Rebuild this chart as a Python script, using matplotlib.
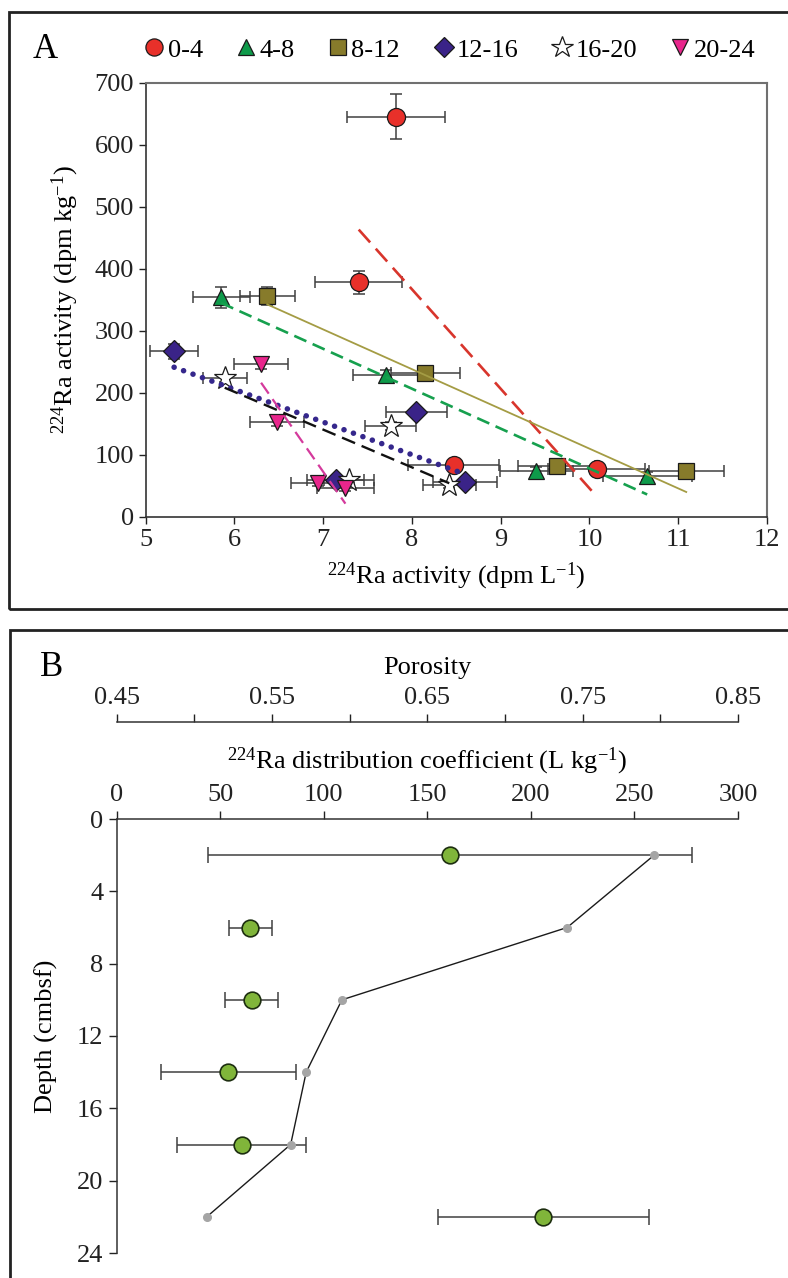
import numpy as np
import matplotlib
matplotlib.use('Agg')
import matplotlib.pyplot as plt
from matplotlib.lines import Line2D
from matplotlib.patches import Rectangle
from matplotlib.ticker import MultipleLocator

plt.rcParams['font.family'] = ['Liberation Serif', 'DejaVu Serif']
plt.rcParams['mathtext.default'] = 'regular'
plt.rcParams['font.size'] = 19

# ---- Panel A data: 224Ra in pore water (x) vs sediment (y), by depth layer ----
groups = ['0-4', '4-8', '8-12', '12-16', '16-20', '20-24']
x_data = {
    '0-4':   [7.82, 7.40, 8.47, 10.08],
    '4-8':   [5.85, 7.71, 9.40, 10.65],
    '8-12':  [6.37, 8.15, 9.63, 11.09],
    '12-16': [5.32, 8.05, 7.14, 8.60],
    '16-20': [5.89, 7.76, 7.29, 8.42],
    '20-24': [6.30, 6.48, 6.94, 7.25],
}
y_data = {
    '0-4':   [645, 378, 83, 77],
    '4-8':   [354, 228, 74, 66],
    '8-12':  [356, 232, 82, 74],
    '12-16': [267, 169, 60, 56],
    '16-20': [223, 146, 59, 51],
    '20-24': [247, 153, 55, 46],
}
x_err = {
    '0-4':   [0.55, 0.49, 0.51, 0.55],
    '4-8':   [0.32, 0.37, 0.41, 0.50],
    '8-12':  [0.31, 0.39, 0.43, 0.42],
    '12-16': [0.27, 0.34, 0.32, 0.36],
    '16-20': [0.25, 0.29, 0.28, 0.30],
    '20-24': [0.30, 0.30, 0.30, 0.32],
}
y_err = {
    '0-4':   [36, 19, 8, 6],
    '4-8':   [17, 8, 6, 6],
    '8-12':  [15, 8, 6, 6],
    '12-16': [12, 6, 5, 5],
    '16-20': [6, 6, 5, 5],
    '20-24': [8, 6, 5, 5],
}

# ---- Panel B data: depth profiles ----
depth = [2, 6, 10, 14, 18, 22]
kd = [161, 64.6, 65.2, 53.8, 60.3, 206]
kd_err = [117, 10.3, 12.9, 32.6, 31.2, 51]
porosity = [0.796, 0.740, 0.595, 0.572, 0.562, 0.508]

# marker / trendline styles per layer
marker = {'0-4': 'o', '4-8': '^', '8-12': 's', '12-16': 'D', '16-20': '*', '20-24': 'v'}
face = {'0-4': '#e8302a', '4-8': '#0e9a4a', '8-12': '#877b2b',
        '12-16': '#3a2388', '16-20': 'white', '20-24': '#e8268c'}
msize = {'0-4': 13, '4-8': 12, '8-12': 11.5, '12-16': 11, '16-20': 17, '20-24': 12}
line_col = {'0-4': '#d8352c', '4-8': '#16a04e', '8-12': '#a49c44',
            '12-16': '#35278c', '16-20': '#111111', '20-24': '#d43a9c'}
line_sty = {'0-4': (0, (6.5, 3.2)), '4-8': (0, (5, 2.6)), '8-12': '-',
            '12-16': (0, (0.01, 1.8)), '16-20': (0, (6, 3)), '20-24': (0, (6, 3))}
line_w = {'0-4': 1.9, '4-8': 1.9, '8-12': 1.3, '12-16': 4, '16-20': 1.7, '20-24': 1.6}

W, H = 788, 1278
fig = plt.figure(figsize=(W / 100, H / 100), dpi=100)

def fx(px):
    return px / W

def fy(py):
    return 1 - py / H

# outer boxes of the two panels
fig.add_artist(Rectangle((fx(9), fy(609)), 1.0, fy(12) - fy(609), transform=fig.transFigure,
                         fill=False, lw=2, ec='#222222'))
fig.add_artist(Rectangle((fx(10), -0.01), 1.0, fy(630) + 0.01, transform=fig.transFigure,
                         fill=False, lw=2, ec='#222222'))

# ===================== Panel A =====================
ax = fig.add_axes([fx(145.7), fy(516.7), fx(767) - fx(145.7), fy(82.7) - fy(516.7)])
for g in groups:
    ax.errorbar(x_data[g], y_data[g], xerr=x_err[g], yerr=y_err[g], fmt='none',
                ecolor='#404040', elinewidth=1.1, capsize=4, capthick=1.1, zorder=2)
for g in groups:
    xs = np.array(x_data[g])
    k, b = np.polyfit(xs, y_data[g], 1)
    xl = np.array([xs.min(), xs.max()])
    ax.plot(xl, k * xl + b, color=line_col[g], lw=line_w[g], linestyle=line_sty[g],
            dash_capstyle='round' if g == '12-16' else 'butt', zorder=4)
for g in groups:
    ax.plot(x_data[g], y_data[g], linestyle='none', marker=marker[g], ms=msize[g],
            mfc=face[g], mec='#1a1a1a', mew=0.9, zorder=3)

ax.set_xlim(5, 12)
ax.set_ylim(0, 700)
ax.set_xticks(range(5, 13))
ax.set_yticks(range(0, 701, 100))
ax.tick_params(direction='out', length=5, width=1, labelsize=19, colors='#222222')
for s in ['left', 'bottom']:
    ax.spines[s].set_color('#333333')
    ax.spines[s].set_linewidth(1.2)
for s in ['top', 'right']:
    ax.spines[s].set_color('#707070')
    ax.spines[s].set_linewidth(1.5)
ax.set_xlabel('$^{224}$Ra activity (dpm L$^{-1}$)', fontsize=19, labelpad=7)
ax.set_ylabel('$^{224}$Ra activity (dpm kg$^{-1}$)', fontsize=19, labelpad=10)

handles = [Line2D([], [], linestyle='none', marker=marker[g], ms=msize[g] * 0.95,
                  mfc=face[g], mec='#1a1a1a', mew=0.9) for g in groups]
fig.legend(handles, groups, ncol=6, loc='center left', bbox_to_anchor=(fx(132), fy(50)),
           frameon=False, fontsize=19, handlelength=0.7, handletextpad=0.15,
           columnspacing=1.3, borderpad=0)
fig.text(fx(45), fy(50), 'A', fontsize=25, ha='center', va='center')

# ===================== Panel B =====================
axb = fig.add_axes([fx(116.7), fy(1253), fx(738) - fx(116.7), fy(819) - fy(1253)])
axp = axb.twiny()
axb.xaxis.tick_top()
axb.xaxis.set_label_position('top')

axb.errorbar(kd, depth, xerr=kd_err, fmt='none', ecolor='#404040', elinewidth=1.1,
             capsize=6, capthick=1.1, zorder=2)
axb.plot(kd, depth, linestyle='none', marker='o', ms=12, mfc='#80b53a', mec='#1d2e10',
         mew=1.2, zorder=3)
axb.set_xlim(0, 300)
axb.set_ylim(24, 0)
axb.set_xticks(range(0, 301, 50))
axb.set_yticks(range(0, 25, 4))
axb.spines['right'].set_visible(False)
axb.spines['bottom'].set_visible(False)
for s in ['left', 'top']:
    axb.spines[s].set_color('#333333')
    axb.spines[s].set_linewidth(1.1)
axb.tick_params(direction='out', length=6, width=1, labelsize=19, colors='#222222')
axb.set_xlabel('$^{224}$Ra distribution coefficient (L kg$^{-1}$)', fontsize=19, labelpad=11)
axb.set_ylabel('Depth (cmbsf)', fontsize=19, labelpad=14)

axp.plot(porosity, depth, color='#1a1a1a', lw=1, marker='o', ms=5.5,
         mfc='#a5a5a5', mec='#a5a5a5', zorder=3)
axp.set_xlim(0.45, 0.85)
axp.set_ylim(24, 0)
axp.set_xticks([0.45, 0.55, 0.65, 0.75, 0.85])
axp.xaxis.set_minor_locator(MultipleLocator(0.05))
axp.spines['top'].set_position(('outward', 70))
axp.spines['top'].set_color('#333333')
axp.spines['top'].set_linewidth(1.1)
for s in ['left', 'right', 'bottom']:
    axp.spines[s].set_visible(False)
axp.tick_params(axis='x', which='both', direction='out', length=6, width=1,
                labelsize=19, colors='#222222')
axp.tick_params(axis='x', which='minor', length=6)
axp.set_xlabel('Porosity', fontsize=19, labelpad=9)

fig.text(fx(52), fy(667), 'B', fontsize=25, ha='center', va='center')

fig.savefig('out.png', dpi=100)
